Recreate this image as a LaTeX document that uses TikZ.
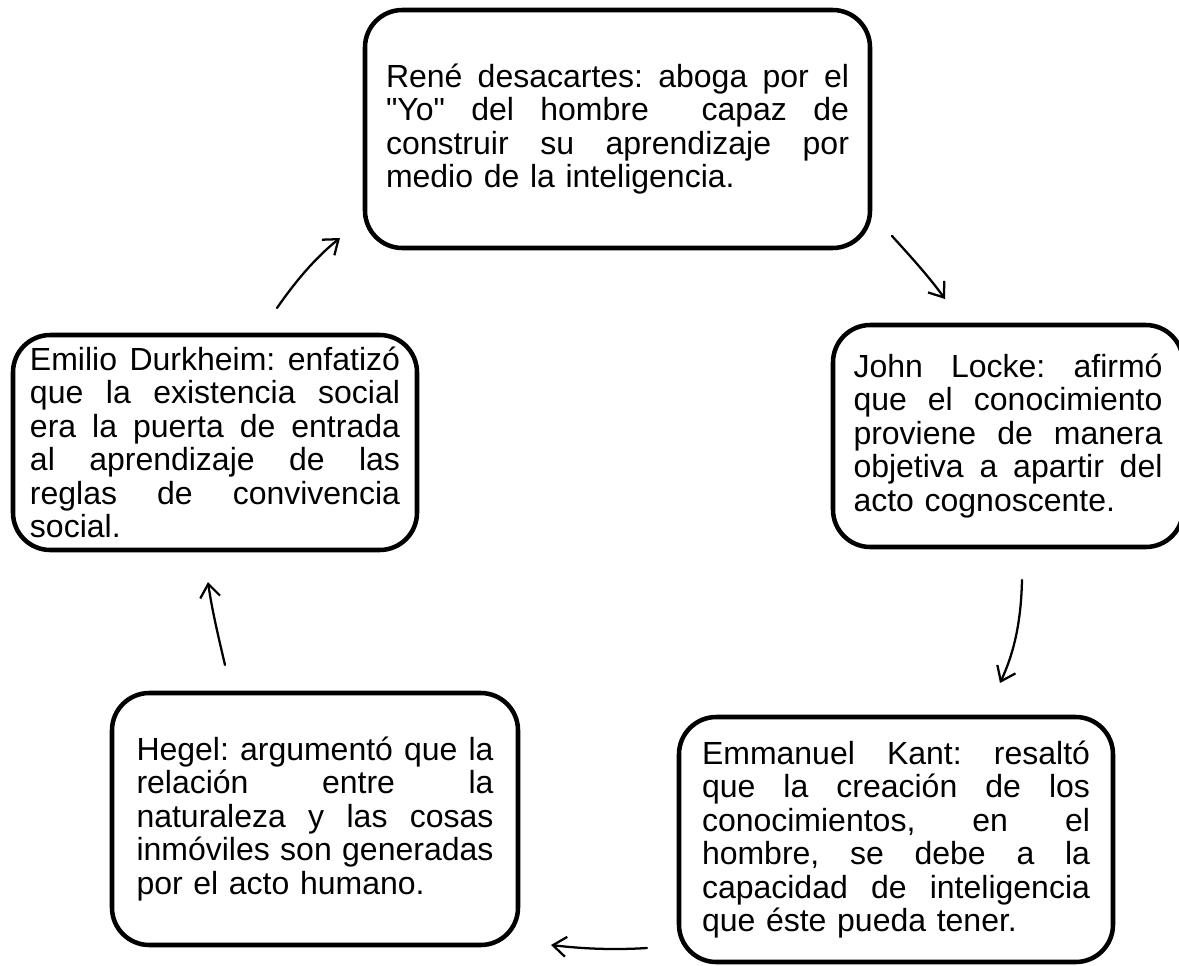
\documentclass[tikz,border=0pt]{standalone}
\usepackage{fontspec}
\setmainfont{Liberation Sans}[Ligatures=TeXOff]
\usetikzlibrary{arrows.meta}
\frenchspacing
\newcommand{\jl}[1]{\leavevmode\hbox to \hsize{\frenchspacing\spaceskip=0.278em plus 1fil minus 0.05em\relax #1}}
\tikzset{
  box/.style={draw, line width=3.4pt, rounded corners=28pt, inner sep=0pt,
    align=left, font=\fontsize{24}{25.125}\selectfont\frenchspacing},
  arr/.style={line width=1.7pt, line cap=round,
    -{Straight Barb[length=10pt,width=15pt,line width=1.7pt]}},
}
\begin{document}
\begin{tikzpicture}[x=0.75pt,y=-0.75pt]
\useasboundingbox (0,0) rectangle (1179,965);

\node[box, minimum width=378.75pt, minimum height=178.5pt, text width=347.25pt] (rene) at (617.5,129)
 {\jl{René desacartes: aboga por el}\\
  \jl{"Yo" del hombre\ \ capaz de}\\
  \jl{construir su aprendizaje por}\\
  medio de la inteligencia.};

\node[box, minimum width=262.5pt, minimum height=166.5pt, text width=231.75pt] (locke) at (1008,436)
 {\jl{John Locke: afirmó}\\
  \jl{que el conocimiento}\\
  \jl{proviene de manera}\\
  \jl{objetiva a apartir del}\\
  acto cognoscente.};

\node[box, minimum width=325.5pt, minimum height=183.75pt, text width=291pt] (kant) at (896,839.5)
 {\jl{Emmanuel Kant: resaltó}\\
  \jl{que la creación de los}\\
  \jl{conocimientos, en el}\\
  \jl{hombre, se debe a la}\\
  \jl{capacidad de inteligencia}\\
  que éste pueda tener.};

\node[box, minimum width=304.5pt, minimum height=189pt, text width=267.75pt] (hegel) at (315,819)
 {\jl{Hegel: argumentó que la}\\
  \jl{relación entre la}\\
  \jl{naturaleza y las cosas}\\
  \jl{inmóviles son generadas}\\
  por el acto humano.};

\node[box, minimum width=303pt, minimum height=161.25pt, text width=277.5pt] (durk) at (215,442.5)
 {\jl{Emilio Durkheim: enfatizó}\\
  \jl{que la existencia social}\\
  \jl{era la puerta de entrada}\\
  \jl{al aprendizaje de las}\\
  \jl{reglas de convivencia}\\
  social.};

\coordinate (a1s) at (892,236);
\coordinate (a1e) at (945,299);
\coordinate (a2s) at (1022,580);
\coordinate (a2e) at (1000,683);
\coordinate (a3s) at (647,948);
\coordinate (a3e) at (551,945);
\coordinate (a4s) at (225,665);
\coordinate (a4e) at (208,582);
\coordinate (a5s) at (277,308);
\coordinate (a5e) at (340,238);

\draw[arr] (a1s) .. controls (912,258) and (930,278) .. (a1e);
\draw[arr] (a2s) .. controls (1021,625) and (1013,655) .. (a2e);
\draw[arr] (a3s) .. controls (615,950) and (585,949) .. (a3e);
\draw[arr] (a4s) .. controls (218,635) and (212,610) .. (a4e);
\draw[arr] (a5s) .. controls (295,282) and (315,258) .. (a5e);
\end{tikzpicture}
\end{document}
